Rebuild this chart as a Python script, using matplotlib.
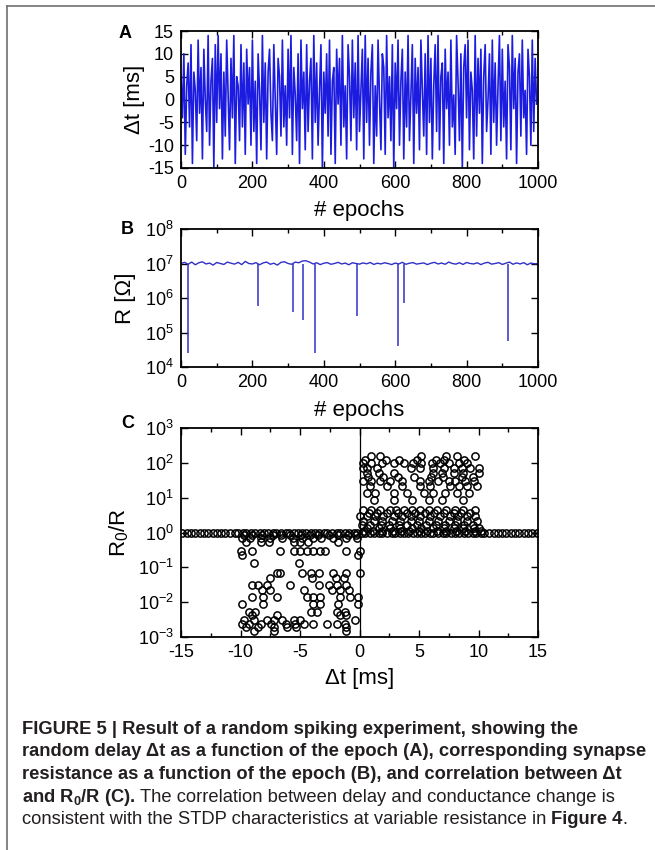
import matplotlib
matplotlib.use("Agg")
import matplotlib.pyplot as plt
import numpy as np
from matplotlib.lines import Line2D
from matplotlib.ticker import MultipleLocator, FixedLocator, FuncFormatter, NullLocator

plt.rcParams['font.family'] = ['Liberation Sans', 'DejaVu Sans']
plt.rcParams['mathtext.fontset'] = 'custom'
plt.rcParams['mathtext.rm'] = 'Liberation Sans'
plt.rcParams['mathtext.it'] = 'Liberation Sans:italic'
plt.rcParams['mathtext.bf'] = 'Liberation Sans:bold'
plt.rcParams['axes.unicode_minus'] = False

# ---- panel A: random delay per epoch (sampled every 4 epochs) ----
dt_step = 4
dt_series = [
    5, -4, 10, -12, 3, 8, -6, 12, -14, 6, 2, -9, 13, -3, 7, -13, 11, 0, -7, 14, -10, 4, 9, -15, 12,
    -5, 14, -2, 10, -13, 6, -8, 13, 1, -11, 9, -4, 14, -14, 5, 3, -9, 12, -6, 8, -12, 11, -1, 7, -10,
    13, -7, 4, -14, 10, 2, -11, 14, -5, 8, -13, 6, 11, -3, -9, 12, 0, -12, 9, 5, -8, 13, -6, 3, -10,
    11, -4, 14, -12, 7, 1, -9, 10, -14, 13, -2, 6, -11, 12, -7, 4, 9, -13, 14, -5, 8, -10, 2, 12, -15,
    6, -3, 10, -8, 13, -12, 4, 7, -14, 11, -1, 9, -10, 14, -6, 3, -13, 12, 5, -9, 13, -4, 8, -11, 14,
    -7, 2, 11, -13, 14, -5, 9, -10, 6, 12, -14, 3, -8, 13, 0, -11, 10, 7, -12, 14, -4, 5, -9, 12, -15,
    8, -2, 13, -10, 4, 11, -13, 6, -6, 14, -9, 1, 12, -14, 9, -3, 7, -11, 13, 2, -8, 10, -12, 14, -5,
    9, -13, 3, 12, -7, 14, -11, 5, 8, -14, 11, -2, 6, -10, 13, -6, 1, -12, 14, 4, -9, 10, -15, 7, 12,
    -4, 13, -11, 6, 2, -13, 14, -8, 9, -3, 11, -14, 5, 12, -7, 0, 10, -12, 13, -5, 8, -10, 3, 14, -9,
    11, -6, 4, -13, 12, 7, -11, 14, -2, 9, -14, 6, 10, -8, 13, -4, 2, -12, 11, 5, -10, 13, -7, 9, -1,
]

# ---- panel B: resistance baseline (x1e7, every 10 epochs) and drop spikes ----
r_step = 10
r_base = [
    1.0, 1.08, 0.95, 1.1, 0.92, 1.05, 1.12, 0.97, 1.03, 0.9, 1.07, 1.0, 0.94, 1.1, 1.02, 0.96, 1.08,
    0.93, 1.15, 1.0, 0.97, 1.06, 0.92, 1.04, 1.1, 0.95, 1.02, 0.9, 1.08, 1.12, 1.0, 0.95, 1.1, 1.05,
    1.18, 1.2, 1.1, 0.97, 1.05, 0.93, 1.02, 1.06, 0.95, 1.0, 1.08, 0.97, 1.03, 0.92, 1.05, 1.0, 0.96,
    1.04, 0.98, 1.07, 0.94, 1.02, 0.97, 1.05, 1.0, 0.93, 1.03, 0.97, 1.08, 0.95, 1.02, 1.06, 0.96, 1.0,
    1.04, 0.93, 1.02, 1.08, 0.97, 1.03, 0.95, 1.1, 1.0, 0.96, 1.05, 0.94, 1.07, 1.0, 0.97, 1.05, 0.93,
    1.03, 1.08, 0.96, 1.0, 1.06, 0.94, 1.02, 1.1, 0.95, 1.04, 0.97, 1.06, 0.92, 1.03, 0.98, 1.0,
]
spike_epochs = [20, 215, 313, 343, 375, 493, 607, 625, 915]
spike_minima = [2.5e4, 6e5, 4e5, 2.3e5, 2.5e4, 3e5, 4e4, 7e5, 5.5e4]

# ---- panel C: R0/R versus delay ----
flat_dt = [
    -14.9, -14.5, -14.2, -13.8, -13.4, -13.1, -12.7, -12.3, -12.0, -11.6, -11.3, -10.9, -10.5, -10.2,
    -9.8, -9.5, -9.1, -8.8, -8.4, -8.0, -7.7, -7.3, -7.0, -6.6, -6.2, -5.9, -5.5, -5.2, -4.8, -4.5,
    -4.1, -3.7, -3.4, -3.0, -2.7, -2.3, -1.9, -1.6, -1.2, -0.9, -0.5, -0.2, 0.2, 0.5, 0.9, 1.2, 1.6,
    1.9, 2.3, 2.7, 3.0, 3.4, 3.7, 4.1, 4.5, 4.8, 5.2, 5.5, 5.9, 6.2, 6.6, 7.0, 7.3, 7.7, 8.0, 8.4,
    8.8, 9.1, 9.5, 9.8, 10.2, 10.5, 10.9, 11.3, 11.6, 12.0, 12.3, 12.7, 13.1, 13.4, 13.8, 14.2, 14.5, 14.9,
]
flat_r = 1.0

pot_levels = [155, 120, 100, 72, 52, 40, 30, 21, 13.6, 8.8, 4.5, 3.6, 2.9, 2.1, 1.6, 1.33, 1.12]
pot_dts = [
    [1.0, 1.7, 5.2, 7.3, 8.2, 9.7],
    [0.5, 2.2, 3.3, 4.8, 6.4, 7.1, 8.8],
    [0.3, 1.0, 1.9, 2.9, 3.7, 4.5, 5.2, 6.1, 6.8, 7.5, 8.4, 9.0],
    [0.3, 0.6, 1.5, 4.3, 5.1, 6.2, 7.1, 7.9, 8.6, 9.3, 10.0],
    [0.6, 1.6, 2.9, 6.2, 6.9, 7.9, 8.7, 10.0],
    [0.7, 2.0, 3.2, 4.6, 6.0, 7.0, 8.6, 9.5],
    [0.3, 1.0, 1.7, 2.6, 3.6, 5.1, 5.8, 6.6, 7.5, 8.0, 8.9, 9.6],
    [0.9, 2.3, 3.6, 5.1, 5.9, 7.6, 8.4, 9.0, 9.9],
    [0.6, 1.3, 2.9, 4.0, 5.4, 6.2, 7.2, 8.2, 9.2],
    [1.2, 2.9, 4.4, 5.8, 6.9, 8.7],
    [0.3, 1.0, 1.7, 2.6, 3.1, 3.7, 4.4, 5.1, 5.8, 6.5, 7.3, 8.0, 8.7, 9.7],
    [0.8, 1.5, 2.3, 3.2, 4.0, 4.7, 5.5, 6.3, 7.1, 7.9, 8.5, 9.3],
    [0.05, 0.6, 1.3, 2.0, 2.9, 3.6, 4.3, 5.1, 5.9, 6.8, 7.6, 8.3, 9.0, 9.7],
    [0.3, 1.2, 1.9, 2.7, 3.4, 4.3, 5.0, 5.8, 6.6, 7.5, 8.2, 9.0, 9.9],
    [0.2, 0.9, 1.8, 2.5, 3.3, 4.0, 4.8, 5.6, 6.4, 7.2, 8.0, 8.8, 9.5],
    [0.6, 1.6, 2.6, 3.4, 4.4, 5.2, 6.2, 7.1, 7.9, 8.7, 9.6, 10.0],
    [0.4, 1.1, 1.9, 2.8, 3.5, 4.2, 5.0, 5.7, 6.5, 7.3, 8.1, 8.9, 9.7, 10.2],
]

dep_levels = [0.85, 0.69, 0.55, 0.3, 0.22, 0.13, 0.067, 0.048, 0.031, 0.022, 0.014, 0.009,
              0.0052, 0.0042, 0.003, 0.0024, 0.0019, 0.0015]
dep_dts = [
    [-9.7, -9.0, -8.2, -7.3, -6.6, -5.8, -4.9, -4.2, -3.5, -2.6, -1.8, -1.0, -0.3],
    [-9.9, -9.2, -8.3, -7.5, -6.5, -5.6, -4.8, -3.9, -3.2, -2.2, -1.1, -0.2],
    [-9.5, -8.3, -7.6, -5.5, -5.0, -4.3, -1.8],
    [-10.0, -9.0, -6.7, -5.5, -5.0, -4.4, -3.9, -3.3, -2.9, -1.1, 0.05],
    [-9.9, -0.1],
    [-8.9, -5.1],
    [-6.9, -6.7, -4.8, -4.1, -3.4, -2.2, -1.1, 0.0],
    [-7.5, -4.0, -2.0, -1.3],
    [-9.0, -8.5, -7.8, -5.8, -3.4, -2.6, -1.9, -1.1],
    [-8.2, -7.5, -4.7, -2.3, -1.6, -0.9],
    [-9.0, -8.1, -6.9, -4.4, -3.9, -3.3, -1.6, -0.8, -0.1],
    [-9.9, -8.1, -3.9, -3.3, -1.8, -0.1],
    [-9.3, -8.8, -4.1, -3.6, -1.9, -1.2],
    [-9.0, -6.9, -1.6, -1.1],
    [-9.7, -8.9, -7.8, -7.2, -6.5, -5.5, -5.0, -0.4],
    [-9.9, -9.3, -8.3, -7.4, -6.2, -5.4, -4.7, -3.9, -2.7, -1.9, -1.2],
    [-9.5, -8.5, -7.2, -6.1, -5.3, -1.1],
    [-8.9, -7.2, -1.1],
]

caption_lines = [
    [("FIGURE 5 | Result of a random spiking experiment, showing the", True)],
    [("random delay \u0394t as a function of the epoch (A), corresponding synapse", True)],
    [("resistance as a function of the epoch (B), and correlation between \u0394t", True)],
    [(r"and R$\mathbf{_0}$/R (C).", True),
     ("The correlation between delay and conductance change is", False)],
    [("consistent with the STDP characteristics at variable resistance in", False),
     ("Figure 4", True), (".", False)],
]

W, H = 655, 850
fig = plt.figure(figsize=(W / 100, H / 100), dpi=100)
fig.patch.set_facecolor('white')

blue = '#1c1ce0'
tick_fs = 13
label_fs = 16


def style(ax):
    for s in ax.spines.values():
        s.set_linewidth(1.3)
    ax.tick_params(which='both', direction='in', top=True, right=True,
                   labelsize=tick_fs, width=1.0)
    ax.tick_params(which='major', length=5, pad=5)
    ax.tick_params(which='minor', length=3)


def log_fmt(v, pos):
    return r'$\mathregular{10^{%d}}$' % int(round(np.log10(v)))


left, width = 181 / W, 357 / W

# A
axA = fig.add_axes([left, 1 - 168 / H, width, 137 / H])
ep_a = np.arange(len(dt_series)) * dt_step
axA.plot(ep_a, dt_series, color=blue, lw=1.2)
axA.set_xlim(0, 1000)
axA.set_ylim(-15, 15)
axA.xaxis.set_major_locator(MultipleLocator(200))
axA.xaxis.set_minor_locator(MultipleLocator(100))
axA.yaxis.set_major_locator(MultipleLocator(5))
style(axA)
axA.set_xlabel('# epochs', fontsize=label_fs)
axA.set_ylabel('\u0394t [ms]', fontsize=label_fs)
axA.xaxis.set_label_coords(0.5, -0.23)
axA.yaxis.set_label_coords(-0.10, 0.5)

# B
axB = fig.add_axes([left, 1 - 367 / H, width, 138 / H])
ep_b = np.arange(len(r_base)) * r_step
axB.plot(ep_b, np.array(r_base) * 1e7, color='#3030c8', lw=1.0)
axB.vlines(spike_epochs, spike_minima, 1e7, color='#3030c8', lw=1.1)
axB.set_yscale('log')
axB.set_xlim(0, 1000)
axB.set_ylim(1e4, 1e8)
axB.xaxis.set_major_locator(MultipleLocator(200))
axB.xaxis.set_minor_locator(MultipleLocator(100))
axB.yaxis.set_major_locator(FixedLocator([1e4, 1e5, 1e6, 1e7, 1e8]))
axB.yaxis.set_minor_locator(NullLocator())
axB.yaxis.set_major_formatter(FuncFormatter(log_fmt))
style(axB)
axB.set_xlabel('# epochs', fontsize=label_fs)
axB.set_ylabel('R [\u03a9]', fontsize=label_fs)
axB.xaxis.set_label_coords(0.5, -0.24)
axB.yaxis.set_label_coords(-0.125, 0.5)

# C
axC = fig.add_axes([left, 1 - 637 / H, width, 209 / H])
axC.axvline(0, color='black', lw=0.9)
circ = dict(linestyle='none', marker='o', ms=5.2, mfc='none', mec='black', mew=1.1)
axC.plot(flat_dt, [flat_r] * len(flat_dt), **circ)
for lvl, xs in zip(pot_levels, pot_dts):
    axC.plot(xs, [lvl] * len(xs), **circ)
for lvl, xs in zip(dep_levels, dep_dts):
    axC.plot(xs, [lvl] * len(xs), **circ)
axC.set_yscale('log')
axC.set_xlim(-15, 15)
axC.set_ylim(1e-3, 1e3)
axC.xaxis.set_major_locator(MultipleLocator(5))
axC.xaxis.set_minor_locator(MultipleLocator(2.5))
axC.yaxis.set_major_locator(FixedLocator([1e-3, 1e-2, 1e-1, 1, 1e1, 1e2, 1e3]))
axC.yaxis.set_minor_locator(NullLocator())
axC.yaxis.set_major_formatter(FuncFormatter(log_fmt))
style(axC)
axC.set_xlabel('\u0394t [ms]', fontsize=label_fs)
axC.set_ylabel(r'R$\mathregular{_0}$/R', fontsize=label_fs)
axC.xaxis.set_label_coords(0.5, -0.15)
axC.yaxis.set_label_coords(-0.14, 0.5)

# panel letters
for lab, (px, py) in zip('ABC', [(125, 33), (127, 229), (128, 424)]):
    fig.text(px / W, 1 - py / H, lab, fontsize=13, fontweight='bold', ha='center', va='center')

# frame lines of the page
fig.add_artist(Line2D([7 / W, 1], [1 - 6 / H, 1 - 6 / H], color='#707070', lw=1.2))
fig.add_artist(Line2D([7 / W, 7 / W], [0, 1 - 6 / H], color='#707070', lw=1.2))

# caption
renderer = fig.canvas.get_renderer()
cap_fs = 13.2
x0 = 22
space = 4.5
for i, parts in enumerate(caption_lines):
    x = x0
    yb = 734 + i * 22.5
    for j, (txt, bold) in enumerate(parts):
        if j > 0 and txt != '.':
            x += space
        t = fig.text(x / W, 1 - yb / H, txt, fontsize=cap_fs, color='#231f20',
                     fontweight='bold' if bold else 'normal', ha='left', va='baseline')
        x = t.get_window_extent(renderer).x1

fig.savefig('out.png', dpi=100, facecolor='white')
